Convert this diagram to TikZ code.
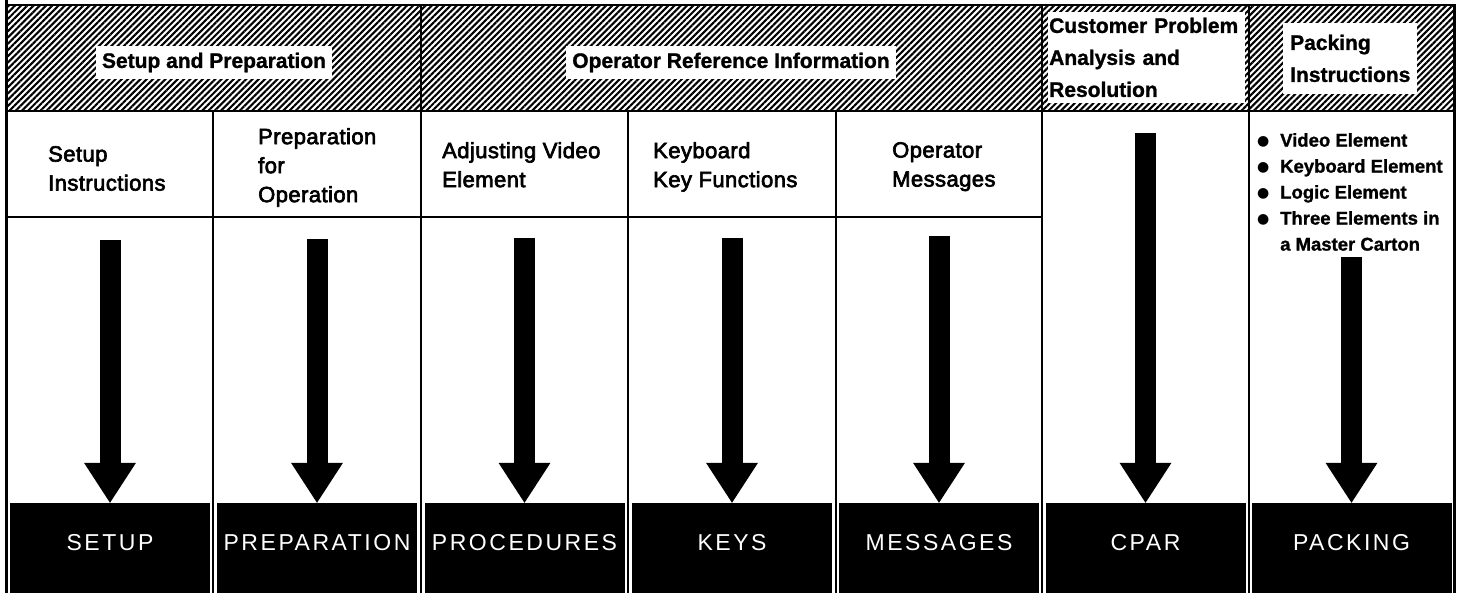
\documentclass[tikz,border=0pt]{standalone}
\usepackage{fontspec}
\setmainfont{Liberation Sans}
\newfontfamily\boxfont[LetterSpace=11]{Liberation Sans}
\newfontfamily\medfont[LetterSpace=2,FakeBold=3]{Liberation Sans}
\newfontfamily\heavyfont[FakeBold=1.2]{Liberation Sans Bold}
\newfontfamily\symfont{DejaVu Sans}
\usetikzlibrary{arrows.meta,patterns.meta}
\newcommand{\bigdot}{\makebox[23pt][l]{\raisebox{1.5pt}{\symfont\fontsize{14}{14}\selectfont ●}}}
\begin{document}
\begin{tikzpicture}[x=1pt,y=-1pt,
  frame/.style={line width=2.5pt},
  divider/.style={line width=2.2pt},
  hatchfill/.style={pattern={Lines[angle=45,distance=4.4pt,line width=2.1pt]}},
  hatchlabel/.style={fill=white,font=\heavyfont\fontsize{21}{32}\selectfont,inner ysep=7pt,inner xsep=6pt},
  headtext/.style={anchor=north west,inner sep=0pt,align=left,font=\medfont\fontsize{22}{29}\selectfont},
  outbox/.style={fill=black,text=white,minimum width=200pt,minimum height=90pt,inner sep=0pt,text depth=12pt,font=\boxfont\fontsize{23}{23}\selectfont},
  bigarrow/.style={line width=21pt,-{Triangle[width=52pt,length=40pt,line width=0pt]}}
]
\useasboundingbox (0,0) rectangle (1459,593);
% hatched band
\fill[hatchfill] (6.5,5) rectangle (1454.5,111);
% group labels
\node[hatchlabel] (grpsetup) at (214,62.5) {Setup and Preparation};
\node[hatchlabel] (grpoper) at (731,62.5) {Operator Reference Information};
\node[hatchlabel,anchor=north west,align=left,text width=194pt,inner xsep=1.5pt,inner ysep=6pt] (grpcpar) at (1047.5,11.5) {Customer Problem\\Analysis and\\Resolution};
\node[hatchlabel,anchor=north west,align=left,inner xsep=7pt,inner ysep=11.5pt] (grppack) at (1283,23) {Packing\\Instructions};
% frame and grid
\draw[frame] (6.5,593) -- (6.5,0);
\draw[frame] (6.5,5) -- (1454.5,5) -- (1454.5,593);
\draw[divider] (6.5,111) -- (1454.5,111);
\draw[divider] (6.5,217) -- (1042,217);
\draw[divider] (213,111) -- (213,593);
\draw[divider] (628,111) -- (628,593);
\draw[divider] (836,111) -- (836,593);
\draw[divider] (421,5) -- (421,593);
\draw[divider] (1042,5) -- (1042,593);
\draw[divider] (1249,5) -- (1249,593);
% header texts
\node[headtext] (hsetup) at (48,146) {Setup\\Instructions};
\node[headtext] (hprep) at (258,128) {Preparation\\for\\Operation};
\node[headtext] (hproc) at (442,142) {Adjusting Video\\Element};
\node[headtext] (hkeys) at (653,142) {Keyboard\\Key Functions};
\node[headtext] (hmsg) at (892,142) {Operator\\Messages};
\node[anchor=north west,inner sep=0pt,align=left,font=\heavyfont\fontsize{18.5}{26}\selectfont] (hpack) at (1257,133)
  {\bigdot Video Element\\\bigdot Keyboard Element\\\bigdot Logic Element\\\bigdot Three Elements in\\\hspace*{23pt}a Master Carton};
% output boxes
\node[outbox] (bsetup) at (110,548) {SETUP};
\node[outbox] (bprep) at (317,548) {PREPARATION};
\node[outbox] (bproc) at (524.5,548) {PROCEDURES};
\node[outbox] (bkeys) at (732,548) {KEYS};
\node[outbox] (bmsg) at (939,548) {MESSAGES};
\node[outbox] (bcpar) at (1145.5,548) {CPAR};
\node[outbox] (bpack) at (1351.5,548) {PACKING};
% arrows
\coordinate (asetup) at (110,240);
\coordinate (aprep) at (317,239);
\coordinate (aproc) at (524.5,238);
\coordinate (akeys) at (732,238);
\coordinate (amsg) at (939,236);
\coordinate (acpar) at (1145.5,133);
\coordinate (apack) at (1351.5,257);
\draw[bigarrow] (asetup) -- (bsetup.north);
\draw[bigarrow] (aprep) -- (bprep.north);
\draw[bigarrow] (aproc) -- (bproc.north);
\draw[bigarrow] (akeys) -- (bkeys.north);
\draw[bigarrow] (amsg) -- (bmsg.north);
\draw[bigarrow] (acpar) -- (bcpar.north);
\draw[bigarrow] (apack) -- (bpack.north);
\end{tikzpicture}
\end{document}
